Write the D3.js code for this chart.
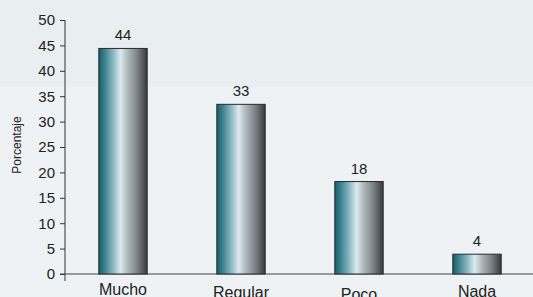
<!DOCTYPE html>
<html>
<head>
<meta charset="utf-8">
<script src="https://cdn.jsdelivr.net/npm/d3@7"></script>
<style>
  body { margin: 0; background: #eef2f3; }
  text { font-family: "Liberation Sans", Arial, sans-serif; fill: #222; }
</style>
</head>
<body>
<div class="grafico"></div>
<script>
/* Datos */
const categories = ['Mucho', 'Regular', 'Poco', 'Nada'];
const values = [44.4, 33.4, 18.2, 3.9];
const yTicks = [0, 5, 10, 15, 20, 25, 30, 35, 40, 45, 50];

const w = 533;
const h = 297;

const svg = d3.select('.grafico')
  .append('svg')
  .attr('width', w)
  .attr('height', h);

/* Fondo en dos bandas */
svg.append('rect').attr('width', w).attr('height', h).attr('fill', '#eef2f4');
svg.append('rect').attr('width', w).attr('height', 87).attr('fill', '#e9eef0');

/* Degradado de las barras */
const grad = svg.append('defs').append('linearGradient')
  .attr('id', 'barGrad')
  .attr('x1', '0%').attr('x2', '100%').attr('y1', '0%').attr('y2', '0%');
[[0, '#1a5d6a'], [0.12, '#3b818e'], [0.3, '#8cb9c3'], [0.45, '#dbe9ee'],
 [0.6, '#aeb7bc'], [0.8, '#7a8186'], [1, '#37383b']]
  .forEach(([o, c]) => grad.append('stop').attr('offset', o).attr('stop-color', c));

/* Escalas */
const x = d3.scaleBand()
  .domain(categories)
  .range([64, 536])
  .paddingInner(0.59)
  .paddingOuter(0.295);

const y = d3.scaleLinear()
  .domain([0, 50])
  .range([274, 20]);

/* Eje Y */
const yAxis = svg.append('g')
  .attr('transform', 'translate(65,0)')
  .call(d3.axisLeft(y).tickValues(yTicks).tickSize(5).tickPadding(5));
yAxis.select('.domain').remove();
yAxis.selectAll('line').attr('stroke', '#333');
yAxis.selectAll('text')
  .style('font-size', '15px')
  .style('font-family', '"Liberation Sans", Arial, sans-serif')
  .attr('fill', '#222');

svg.append('line')
  .attr('x1', 65).attr('x2', 65)
  .attr('y1', y(50)).attr('y2', y(0) + 7)
  .attr('stroke', '#333');

/* Eje X */
svg.append('line')
  .attr('x1', 60).attr('x2', w)
  .attr('y1', y(0)).attr('y2', y(0))
  .attr('stroke', '#444');

/* Barras */
svg.selectAll('.bar')
  .data(values)
  .join('rect')
  .attr('class', 'bar')
  .attr('x', (d, i) => x(categories[i]))
  .attr('y', d => y(d))
  .attr('width', x.bandwidth())
  .attr('height', d => y(0) - y(d))
  .attr('fill', 'url(#barGrad)')
  .attr('stroke', '#2a2a2a')
  .attr('stroke-width', 1);

/* Etiquetas de valor */
svg.selectAll('.val')
  .data(values)
  .join('text')
  .attr('class', 'val')
  .attr('x', (d, i) => x(categories[i]) + x.bandwidth() / 2)
  .attr('y', d => y(d) - 8)
  .attr('text-anchor', 'middle')
  .style('font-size', '15px')
  .text(d => Math.round(d));

/* Categorías (escalonadas como en el original) */
const catShift = [0, 2.5, 5, 2];
svg.selectAll('.cat')
  .data(categories)
  .join('text')
  .attr('class', 'cat')
  .attr('x', d => x(d) + x.bandwidth() / 2)
  .attr('y', (d, i) => 295 + catShift[i])
  .attr('text-anchor', 'middle')
  .style('font-size', '16px')
  .text(d => d);

/* Título eje Y */
svg.append('text')
  .attr('transform', 'translate(21,145) rotate(-90)')
  .attr('text-anchor', 'middle')
  .style('font-size', '12px')
  .text('Porcentaje');
</script>
</body>
</html>
